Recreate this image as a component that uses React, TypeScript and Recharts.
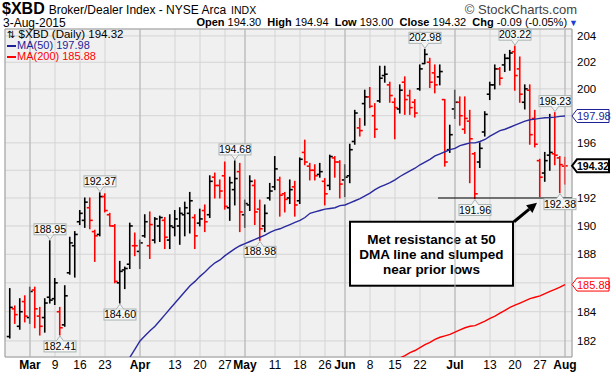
import React from 'react'
import {
  ComposedChart,
  Bar,
  Line,
  XAxis,
  YAxis,
  CartesianGrid,
  ReferenceLine,
  ReferenceDot,
  ReferenceArea,
} from 'recharts'

const FONT = '"Liberation Sans", Arial, sans-serif'

// trading days, Feb 24 .. Aug 3 2015 (index 0 = Mar 2)
const firstIndex = -4
const dates = [
  'Feb 24', 'Feb 25', 'Feb 26', 'Feb 27',
  'Mar 2', 'Mar 3', 'Mar 4', 'Mar 5', 'Mar 6',
  'Mar 9', 'Mar 10', 'Mar 11', 'Mar 12', 'Mar 13',
  'Mar 16', 'Mar 17', 'Mar 18', 'Mar 19', 'Mar 20',
  'Mar 23', 'Mar 24', 'Mar 25', 'Mar 26', 'Mar 27',
  'Mar 30', 'Mar 31', 'Apr 1', 'Apr 2',
  'Apr 6', 'Apr 7', 'Apr 8', 'Apr 9', 'Apr 10',
  'Apr 13', 'Apr 14', 'Apr 15', 'Apr 16', 'Apr 17',
  'Apr 20', 'Apr 21', 'Apr 22', 'Apr 23', 'Apr 24',
  'Apr 27', 'Apr 28', 'Apr 29', 'Apr 30', 'May 1',
  'May 4', 'May 5', 'May 6', 'May 7', 'May 8',
  'May 11', 'May 12', 'May 13', 'May 14', 'May 15',
  'May 18', 'May 19', 'May 20', 'May 21', 'May 22',
  'May 26', 'May 27', 'May 28', 'May 29',
  'Jun 1', 'Jun 2', 'Jun 3', 'Jun 4', 'Jun 5',
  'Jun 8', 'Jun 9', 'Jun 10', 'Jun 11', 'Jun 12',
  'Jun 15', 'Jun 16', 'Jun 17', 'Jun 18', 'Jun 19',
  'Jun 22', 'Jun 23', 'Jun 24', 'Jun 25', 'Jun 26',
  'Jun 29', 'Jun 30', 'Jul 1', 'Jul 2',
  'Jul 6', 'Jul 7', 'Jul 8', 'Jul 9', 'Jul 10',
  'Jul 13', 'Jul 14', 'Jul 15', 'Jul 16', 'Jul 17',
  'Jul 20', 'Jul 21', 'Jul 22', 'Jul 23', 'Jul 24',
  'Jul 27', 'Jul 28', 'Jul 29', 'Jul 30', 'Jul 31',
  'Aug 3',
]

const opens = [
  182.3, 184.2, 183.0, 184.7,
  183.6, 185.5, 183.7, 183.6, 185.0,
  184.9, 184.0, 183.1, 186.7, 188.6,
  190.3, 190.4, 191.3, 189.6, 189.4,
  192.1, 190.8, 190.0, 186.0, 186.9,
  187.3, 188.6, 188.2, 189.3,
  188.6, 189.0, 190.0, 190.4, 189.0,
  189.9, 190.0, 190.8, 190.9, 190.6,
  190.2, 191.1, 190.8, 193.5, 192.9,
  193.6, 191.3, 192.6, 193.9, 190.8,
  191.5, 192.9, 191.2, 190.0, 192.0,
  192.8, 193.3, 192.3, 192.0, 192.8,
  191.8, 195.3, 194.3, 194.0, 193.7,
  193.2, 192.9, 194.9, 194.6,
  193.3, 193.6, 196.1, 197.1, 198.9,
  199.4, 198.0, 199.1, 201.0, 200.3,
  199.0, 198.5, 200.5, 199.5, 199.0,
  200.0, 201.9, 202.0, 201.2, 200.9,
  199.2, 195.5, 198.5, 199.0,
  197.0, 197.6, 195.2, 194.6, 196.8,
  199.6, 200.3, 201.5, 201.8, 202.3,
  202.8, 201.5, 199.0, 199.9, 197.8,
  194.7, 193.8, 195.1, 195.2, 194.9,
  194.3,
]

const highs = [
  185.6, 184.4, 184.9, 185.1,
  185.7, 185.7, 184.3, 184.9, 188.95,
  186.3, 184.3, 185.8, 189.2, 189.6,
  191.1, 192.0, 192.0, 189.7, 192.37,
  192.3, 190.9, 190.1, 187.5, 187.1,
  190.2, 189.5, 189.0, 190.8,
  191.0, 190.6, 190.7, 190.6, 190.8,
  191.1, 191.3, 191.7, 192.4, 190.8,
  191.2, 191.5, 193.6, 193.8, 193.3,
  194.6, 193.5, 194.68, 194.5, 191.85,
  193.6, 193.3, 191.85, 191.5, 193.05,
  195.0, 193.5, 192.4, 193.3, 193.2,
  194.9, 196.2, 194.5, 194.4, 194.5,
  193.4, 195.1, 195.0, 194.7,
  194.4, 195.9, 198.4, 197.8, 199.9,
  200.1, 198.9, 201.7, 201.7, 200.5,
  199.3, 200.3, 200.9, 199.9, 199.2,
  201.8, 202.98, 202.3, 201.8, 201.8,
  199.2, 197.3, 199.9, 199.4,
  199.4, 198.4, 195.3, 196.0, 198.3,
  200.5, 201.8, 201.6, 202.6, 202.9,
  203.22, 202.4, 200.3, 200.3, 198.4,
  194.8, 195.3, 198.1, 198.23, 195.0,
  194.94,
]

const lows = [
  182.2, 183.2, 182.8, 183.3,
  183.2, 182.9, 182.4, 182.6, 184.6,
  184.5, 182.41, 183.0, 186.6, 186.4,
  190.1, 189.9, 189.8, 187.5, 189.3,
  191.0, 190.0, 186.0, 184.6, 185.6,
  187.0, 187.9, 187.0, 189.2,
  187.7, 188.8, 188.9, 188.4, 188.4,
  189.3, 188.7, 189.3, 189.5, 188.4,
  190.0, 189.6, 190.6, 192.0, 192.0,
  191.2, 190.4, 191.5, 189.6, 189.9,
  191.1, 190.1, 188.98, 189.6, 191.85,
  192.6, 190.7, 191.0, 191.6, 190.7,
  191.6, 194.4, 193.3, 193.3, 193.5,
  191.5, 192.6, 193.5, 192.0,
  192.1, 193.1, 195.9, 196.5, 197.3,
  198.6, 196.4, 199.0, 200.5, 199.0,
  196.3, 198.2, 198.1, 198.1, 197.9,
  199.9, 201.9, 200.1, 199.7, 200.3,
  194.3, 195.3, 197.8, 197.3,
  196.7, 193.1, 191.96, 194.2, 196.5,
  199.2, 200.0, 200.3, 201.3, 201.4,
  199.9, 199.0, 198.5, 195.9, 195.7,
  192.1, 193.2, 194.0, 194.4, 192.38,
  193.0,
]

const closes = [
  184.3, 183.8, 184.0, 183.7,
  185.4, 184.2, 183.0, 184.6, 184.8,
  186.0, 182.9, 185.1, 188.8, 189.4,
  190.9, 191.7, 190.4, 189.3, 192.1,
  191.1, 190.0, 186.1, 186.8, 187.0,
  190.0, 188.6, 188.8, 190.3,
  190.1, 190.5, 190.6, 189.2, 190.0,
  190.5, 190.9, 191.3, 191.8, 189.3,
  190.5, 190.3, 193.2, 192.9, 192.5,
  191.4, 193.1, 193.4, 191.0, 191.6,
  193.2, 191.0, 189.8, 190.9, 192.5,
  194.1, 192.2, 191.9, 192.6, 191.5,
  194.8, 194.6, 194.0, 193.6, 193.9,
  192.3, 195.0, 194.6, 193.0,
  193.5, 195.5, 198.2, 196.9, 199.4,
  198.7, 197.0, 200.8, 201.1, 199.5,
  198.6, 199.9, 199.2, 198.6, 198.2,
  201.5, 202.6, 200.5, 200.3, 201.3,
  194.6, 196.6, 199.0, 198.0,
  197.8, 196.3, 192.3, 195.6, 198.1,
  200.3, 201.5, 200.8, 202.3, 202.7,
  201.0, 199.6, 200.0, 196.6, 195.9,
  193.5, 194.7, 195.3, 195.1, 194.41,
  194.32,
]

// 50-day moving average, read from Mar 27 on
const ma50Start = 19
const ma50 = [
  180.55, 180.9, 181.45, 182.0, 182.35,
  182.7, 183.0, 183.4, 183.8, 184.2,
  184.6, 185.0, 185.4, 185.8, 186.1,
  186.45, 186.75, 187.1, 187.4, 187.6,
  187.9, 188.15, 188.4, 188.6, 188.75,
  188.9, 189.05, 189.2, 189.35, 189.55,
  189.7, 189.8, 189.95, 190.1, 190.25,
  190.4, 190.6, 190.9, 191.0, 191.1,
  191.2, 191.25, 191.3, 191.45, 191.5,
  191.65, 191.8, 191.95, 192.15, 192.35,
  192.6, 192.8, 192.95, 193.1, 193.3,
  193.55, 193.75, 193.95, 194.15, 194.4,
  194.6, 194.8, 195.05, 195.2, 195.35,
  195.5, 195.6, 195.8, 195.9, 196.0,
  196.0, 196.1, 196.25, 196.5, 196.7,
  196.9, 197.0, 197.15, 197.3, 197.45,
  197.6, 197.7, 197.75, 197.8, 197.85,
  197.87, 197.9, 197.95, 197.98,
]

// 200-day moving average, read from Jun 15 on
const ma200Start = 73
const ma200 = [
  180.6, 180.85, 181.0, 181.2, 181.35,
  181.55, 181.75, 181.9, 182.1, 182.25,
  182.35, 182.45, 182.6, 182.75, 182.9,
  183.0, 183.05, 183.2, 183.35, 183.55,
  183.7, 183.9, 184.1, 184.3, 184.45,
  184.6, 184.75, 184.9, 185.0, 185.1,
  185.25, 185.4, 185.55, 185.7, 185.88,
]

const tickIndex = [0, 5, 10, 15, 22, 29, 34, 39, 43, 49, 54, 59, 63, 68, 73, 78, 85, 92, 97, 102, 107]
const tickLabels = ['Mar', '9', '16', '23', 'Apr', '13', '20', '27', 'May', '11', '18', '26', 'Jun', '8', '15', '22', 'Jul', '13', '20', '27', 'Aug']
const monthTicks = [0, 22, 43, 63, 85, 107]
const priceTicks = [182, 184, 186, 188, 190, 192, 194, 196, 198, 200, 202, 204]

// price callouts on highs / lows
const calloutIndex = [4, 6, 14, 18, 41, 46, 79, 89, 97, 105, 106]
const calloutValue = [188.95, 182.41, 192.37, 184.6, 194.68, 188.98, 202.98, 191.96, 203.22, 198.23, 192.38]
const calloutAbove = [true, false, true, false, true, false, true, false, true, true, false]

const X_MIN = -5
const X_MAX = 108.4
const Y_MIN = 180.91
const Y_MAX = 204.53

const rows = dates.map((date, k) => {
  const i = k + firstIndex
  const prev = k > 0 ? closes[k - 1] : -Infinity
  return {
    i,
    date,
    open: opens[k],
    high: highs[k],
    low: lows[k],
    close: closes[k],
    range: [lows[k], highs[k]],
    up: closes[k] >= prev,
    ma50: i >= ma50Start && i - ma50Start < ma50.length ? ma50[i - ma50Start] : null,
    ma200: i >= ma200Start && i - ma200Start < ma200.length ? ma200[i - ma200Start] : null,
  }
})

const last = rows[rows.length - 1]
const ma50Last = ma50[ma50.length - 1]
const ma200Last = ma200[ma200.length - 1]
const tagValues = [ma50Last, last.close, ma200Last]

function OhlcBar(props: any) {
  const { x, y, width, height, payload } = props
  if (x == null || y == null || !payload) return null
  const top = Math.min(y, y + height)
  const bottom = Math.max(y, y + height)
  const lh = Math.log(payload.high)
  const ll = Math.log(payload.low)
  const span = lh - ll || 1
  const py = (v: number) => top + ((bottom - top) * (lh - Math.log(v))) / span
  const cx = x + width / 2
  const color = payload.up ? '#000000' : '#ff0000'
  return (
    <g stroke={color} strokeWidth={1.6} fill="none">
      <line x1={cx} x2={cx} y1={top - 0.5} y2={bottom + 0.5} />
      <line x1={cx - 3} x2={cx} y1={py(payload.open)} y2={py(payload.open)} />
      <line x1={cx} x2={cx + 3} y1={py(payload.close)} y2={py(payload.close)} />
    </g>
  )
}

function DateTick(props: any) {
  const { x, y, payload } = props
  const k = tickIndex.indexOf(payload.value)
  const bold = monthTicks.includes(payload.value)
  return (
    <text x={x} y={y + 12} textAnchor="middle" fontSize={12} fontWeight={bold ? 700 : 400} fill="#000" fontFamily={FONT}>
      {tickLabels[k]}
    </text>
  )
}

// price labels hidden behind the tags on the right are not drawn
function PriceTick(props: any) {
  const { x, y, payload } = props
  if (tagValues.some((t) => Math.abs(t - payload.value) < 0.7)) return null
  return (
    <text x={x} y={y + 4} fontSize={11.5} fill="#000" fontFamily={FONT}>
      {payload.value}
    </text>
  )
}

function Callout(props: any) {
  const { cx, cy, text, above } = props
  const w = 32
  const h = 11
  const gap = 6
  const bx = cx - w / 2
  const edge = above ? cy - gap : cy + gap
  const by = above ? edge - h : edge
  const tip = above ? cy - 1 : cy + 1
  return (
    <g>
      <polygon points={`${cx - 3.5},${edge} ${cx},${tip} ${cx + 3.5},${edge}`} fill="#f7f7f7" stroke="#a8b4b2" />
      <rect x={bx} y={by} width={w} height={h} fill="#f7f7f7" stroke="#a8b4b2" />
      <line x1={cx - 3} x2={cx + 3} y1={edge} y2={edge} stroke="#f7f7f7" strokeWidth={1.2} />
      <text x={cx} y={by + h - 2} textAnchor="middle" fontSize={10.5} fill="#000" fontFamily={FONT}>
        {text}
      </text>
    </g>
  )
}

function PriceTag(props: any) {
  const { cx, cy, text, color, bold } = props
  const h = 6.5
  const pts = `${cx},${cy} ${cx + 5},${cy - h} ${cx + 37},${cy - h} ${cx + 37},${cy + h} ${cx + 5},${cy + h}`
  return (
    <g>
      <polygon points={pts} fill="#ffffff" stroke={color} strokeWidth={bold ? 2 : 1} />
      <text x={cx + 5} y={cy + 4} fontSize={bold ? 10.5 : 11} fontWeight={bold ? 700 : 400} fill={color} fontFamily={FONT}>
        {text}
      </text>
    </g>
  )
}

function NoteBox(props: any) {
  const { x, y, width, height } = props
  const mid = x + width / 2
  const base = y + height / 2 + 5
  return (
    <g>
      <rect x={x} y={y} width={width} height={height} fill="#ffffff" stroke="#000" strokeWidth={2} />
      <text textAnchor="middle" fontSize={13.5} fontWeight={700} fill="#000" fontFamily={FONT}>
        <tspan x={mid} y={base - 15}>Met resistance at 50</tspan>
        <tspan x={mid} y={base}>DMA line and slumped</tspan>
        <tspan x={mid} y={base + 15}>near prior lows</tspan>
      </text>
    </g>
  )
}

function Arrow(props: any) {
  const { x1, y1, x2, y2 } = props
  const a = Math.atan2(y2 - y1, x2 - x1)
  const len = 10
  const wing = 5
  const bx = x2 - len * Math.cos(a)
  const by = y2 - len * Math.sin(a)
  const px = -Math.sin(a) * wing
  const py = Math.cos(a) * wing
  return (
    <g>
      <line x1={x1} y1={y1} x2={bx} y2={by} stroke="#000" strokeWidth={3} />
      <polygon points={`${x2},${y2} ${bx + px},${by + py} ${bx - px},${by - py}`} fill="#000" />
    </g>
  )
}

export default function App() {
  return (
    <div
      style={{
        position: 'absolute',
        left: 0,
        top: 0,
        width: 611,
        height: 377,
        background: '#ffffff',
        fontFamily: FONT,
        color: '#000',
        overflow: 'hidden',
      }}
    >
      <ComposedChart width={611} height={377} data={rows} margin={{ top: 29, right: 0, bottom: 0, left: 5 }}>
        <CartesianGrid fill="#f0f0f0" stroke="#d4d4d4" />
        {monthTicks.map((t) => (
          <ReferenceLine key={t} x={t} stroke="#b4b4b4" />
        ))}
        <XAxis
          type="number"
          dataKey="i"
          domain={[X_MIN, X_MAX]}
          allowDataOverflow
          ticks={tickIndex}
          interval={0}
          height={20}
          tickSize={0}
          tickMargin={0}
          tickLine={false}
          axisLine={false}
          tick={<DateTick />}
        />
        <YAxis
          orientation="right"
          type="number"
          scale="log"
          domain={[Y_MIN, Y_MAX]}
          allowDataOverflow
          ticks={priceTicks}
          interval={0}
          width={39}
          tickSize={0}
          tickMargin={5}
          tickLine={false}
          axisLine={false}
          tick={<PriceTick />}
        />
        <Line dataKey="ma200" stroke="#ff0000" strokeWidth={1.4} dot={false} isAnimationActive={false} />
        <Line dataKey="ma50" stroke="#2a2a9e" strokeWidth={1.4} dot={false} isAnimationActive={false} />
        <Bar dataKey="range" barSize={5} shape={<OhlcBar />} isAnimationActive={false} />
        <ReferenceLine
          segment={[
            { x: 81.6, y: 192 },
            { x: X_MAX, y: 192 },
          ]}
          stroke="#000"
          strokeWidth={1.2}
        />
        <ReferenceArea
          x1={64}
          x2={96.6}
          y1={185.8}
          y2={190.3}
          ifOverflow="visible"
          shape={(p: any) => <NoteBox {...p} />}
        />
        <ReferenceLine
          segment={[
            { x: 96.8, y: 190.3 },
            { x: 101.4, y: 191.65 },
          ]}
          shape={(p: any) => <Arrow {...p} />}
        />
        {calloutIndex.map((ci, k) => (
          <ReferenceDot
            key={`c${k}`}
            x={ci}
            y={calloutValue[k]}
            r={0}
            ifOverflow="visible"
            shape={(p: any) => <Callout cx={p.cx} cy={p.cy} text={calloutValue[k].toFixed(2)} above={calloutAbove[k]} />}
          />
        ))}
        <ReferenceArea x1={X_MIN} x2={X_MAX} y1={Y_MIN} y2={Y_MAX} ifOverflow="visible" fill="none" stroke="#a0a0a0" />
        <ReferenceDot
          x={X_MAX}
          y={ma50Last}
          r={0}
          ifOverflow="visible"
          shape={(p: any) => <PriceTag cx={p.cx} cy={p.cy} text={ma50Last.toFixed(2)} color="#1e1e96" />}
        />
        <ReferenceDot
          x={X_MAX}
          y={last.close}
          r={0}
          ifOverflow="visible"
          shape={(p: any) => <PriceTag cx={p.cx} cy={p.cy} text={last.close.toFixed(2)} color="#000" bold />}
        />
        <ReferenceDot
          x={X_MAX}
          y={ma200Last}
          r={0}
          ifOverflow="visible"
          shape={(p: any) => <PriceTag cx={p.cx} cy={p.cy} text={ma200Last.toFixed(2)} color="#ff0000" />}
        />
      </ComposedChart>

      {/* header */}
      <div style={{ position: 'absolute', left: 2, top: 1, whiteSpace: 'nowrap', lineHeight: 1 }}>
        <span style={{ fontSize: 16, fontWeight: 700 }}>$XBD</span>
        <span style={{ fontSize: 12, marginLeft: 4 }}>Broker/Dealer Index - NYSE Arca</span>
        <span style={{ fontSize: 10.5, marginLeft: 5 }}>INDX</span>
      </div>
      <div style={{ position: 'absolute', right: 34, top: 3, whiteSpace: 'nowrap', lineHeight: 1, fontSize: 13, color: '#444' }}>
        © StockCharts.com
      </div>
      <div style={{ position: 'absolute', left: 3, top: 16.5, whiteSpace: 'nowrap', lineHeight: 1, fontSize: 12 }}>3-Aug-2015</div>
      <div style={{ position: 'absolute', right: 33, top: 17, whiteSpace: 'nowrap', lineHeight: 1, fontSize: 11 }}>
        <b>Open</b> {last.open.toFixed(2)} &nbsp;<b>High</b> {last.high.toFixed(2)} &nbsp;<b>Low</b> {last.low.toFixed(2)} &nbsp;
        <b>Close</b> {last.close.toFixed(2)} &nbsp;<b>Chg</b> -0.09 (-0.05%)
        <span style={{ color: '#1f3fd6', fontSize: 9, marginLeft: 2 }}>▼</span>
      </div>

      {/* legend */}
      <div style={{ position: 'absolute', left: 7, top: 29, whiteSpace: 'nowrap', lineHeight: 1, fontSize: 11.5 }}>
        <span style={{ fontFamily: '"DejaVu Sans"', fontSize: 10 }}>⇅</span> $XBD (Daily) {last.close.toFixed(2)}
      </div>
      <div style={{ position: 'absolute', left: 7, top: 40, whiteSpace: 'nowrap', lineHeight: 1, fontSize: 11, color: '#1e1e96' }}>
        <span style={{ display: 'inline-block', width: 9, height: 2, background: '#1e1e96', verticalAlign: 'middle', marginRight: 1 }} />
        MA(50) {ma50Last.toFixed(2)}
      </div>
      <div style={{ position: 'absolute', left: 7, top: 51, whiteSpace: 'nowrap', lineHeight: 1, fontSize: 11, color: '#ff0000' }}>
        <span style={{ display: 'inline-block', width: 9, height: 2, background: '#ff0000', verticalAlign: 'middle', marginRight: 1 }} />
        MA(200) {ma200Last.toFixed(2)}
      </div>
    </div>
  )
}
